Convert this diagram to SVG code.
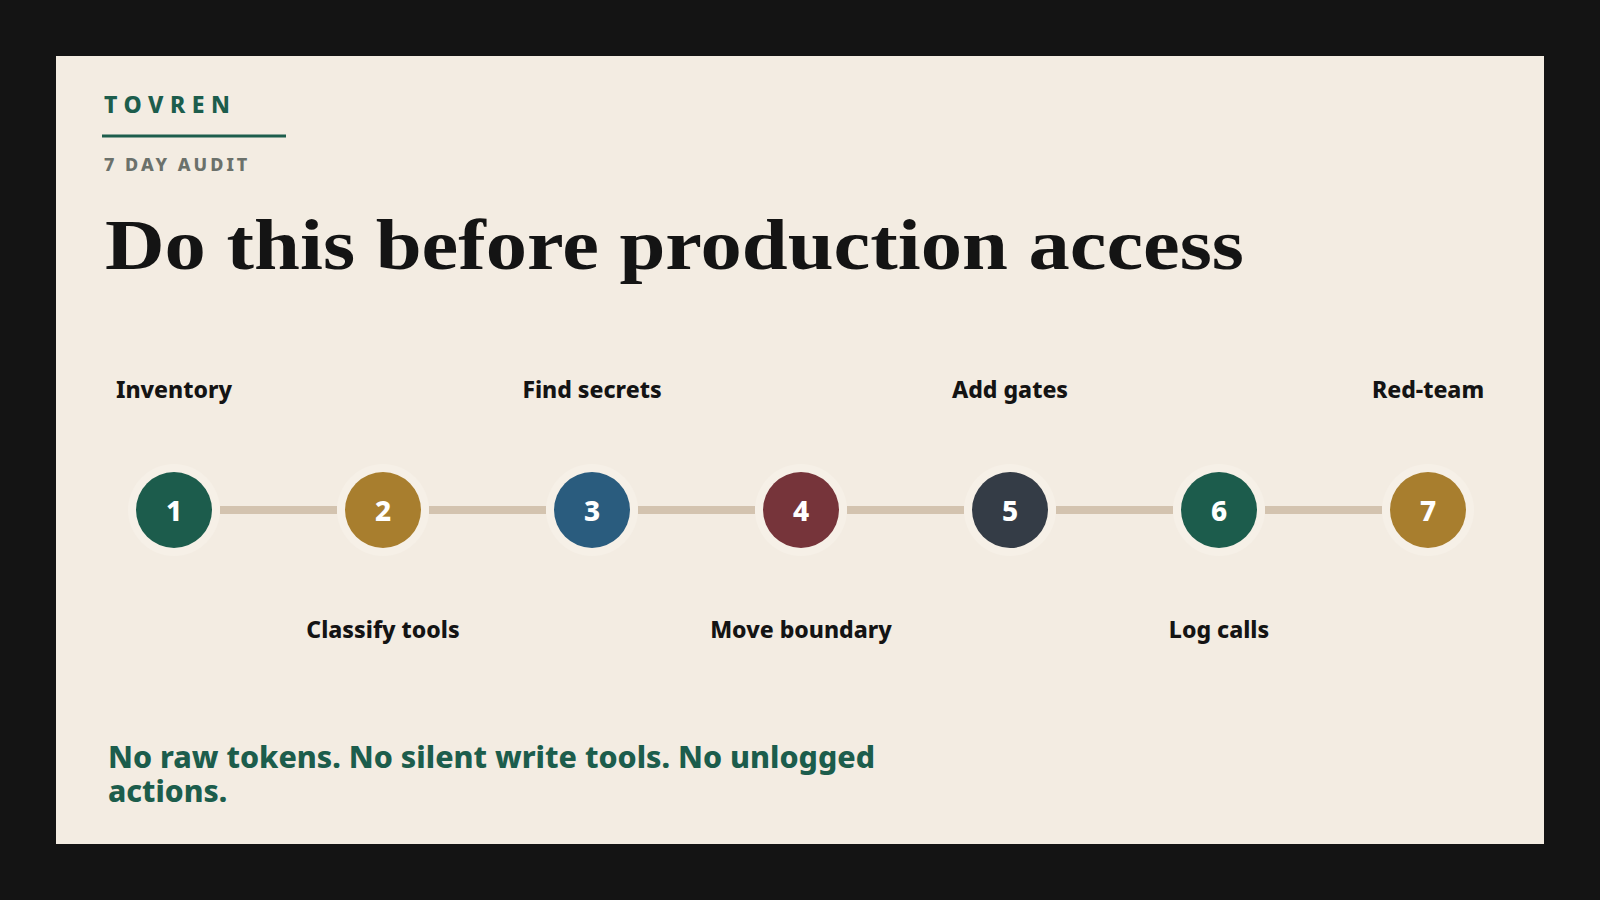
<svg xmlns="http://www.w3.org/2000/svg" width="1600" height="900" viewBox="0 0 1600 900">
<style>
.brand{font-family:"Noto Sans","Open Sans",sans-serif;font-weight:800;font-size:23px;letter-spacing:6.5px;fill:#1C5D4C}
.sub{font-family:"Noto Sans","Open Sans",sans-serif;font-weight:800;font-size:18px;letter-spacing:3px;fill:#6B716B}
.title{font-family:"Liberation Serif","DejaVu Serif",serif;font-weight:700;font-size:72px;fill:#141414}
.lbl{font-family:"Noto Sans","Open Sans",sans-serif;font-weight:800;font-size:23px;fill:#141414;text-anchor:middle}
.num{font-family:"Noto Sans","Open Sans",sans-serif;font-weight:800;font-size:28px;fill:#FFFFFF;text-anchor:middle}
.foot{font-family:"Noto Sans","Open Sans",sans-serif;font-weight:800;font-size:30px;fill:#1C5D4C}
.halo{fill:#F6F0E7}
.conn{stroke:#D3C3AF;stroke-width:8;fill:none}
</style>
<rect x="0" y="0" width="1600" height="900" fill="#141414"/>
<rect x="56" y="56" width="1488" height="788" fill="#F3ECE2"/>
<text class="brand" x="104" y="113">TOVREN</text>
<line x1="102" y1="136" x2="286" y2="136" stroke="#1C5D4C" stroke-width="3"/>
<text class="sub" x="104" y="171">7 DAY AUDIT</text>
<text class="title" x="105" y="269" textLength="1139" lengthAdjust="spacingAndGlyphs">Do this before production access</text>
<g id="connectors">
<line class="conn" x1="220" y1="510" x2="337" y2="510"/>
<line class="conn" x1="429" y1="510" x2="546" y2="510"/>
<line class="conn" x1="638" y1="510" x2="755" y2="510"/>
<line class="conn" x1="847" y1="510" x2="964" y2="510"/>
<line class="conn" x1="1056" y1="510" x2="1173" y2="510"/>
<line class="conn" x1="1265" y1="510" x2="1382" y2="510"/>
</g>
<g id="node1"><circle class="halo" cx="174" cy="510" r="46"/><circle cx="174" cy="510" r="38" fill="#1C5C4C"/><text class="num" x="174" y="521">1</text><text class="lbl" x="174" y="398">Inventory</text></g>
<g id="node2"><circle class="halo" cx="383" cy="510" r="46"/><circle cx="383" cy="510" r="38" fill="#A87E2E"/><text class="num" x="383" y="521">2</text><text class="lbl" x="383" y="638">Classify tools</text></g>
<g id="node3"><circle class="halo" cx="592" cy="510" r="46"/><circle cx="592" cy="510" r="38" fill="#2A5C7E"/><text class="num" x="592" y="521">3</text><text class="lbl" x="592" y="398">Find secrets</text></g>
<g id="node4"><circle class="halo" cx="801" cy="510" r="46"/><circle cx="801" cy="510" r="38" fill="#76343A"/><text class="num" x="801" y="521">4</text><text class="lbl" x="801" y="638">Move boundary</text></g>
<g id="node5"><circle class="halo" cx="1010" cy="510" r="46"/><circle cx="1010" cy="510" r="38" fill="#343C46"/><text class="num" x="1010" y="521">5</text><text class="lbl" x="1010" y="398">Add gates</text></g>
<g id="node6"><circle class="halo" cx="1219" cy="510" r="46"/><circle cx="1219" cy="510" r="38" fill="#1C5C4C"/><text class="num" x="1219" y="521">6</text><text class="lbl" x="1219" y="638">Log calls</text></g>
<g id="node7"><circle class="halo" cx="1428" cy="510" r="46"/><circle cx="1428" cy="510" r="38" fill="#A87E2E"/><text class="num" x="1428" y="521">7</text><text class="lbl" x="1428" y="398">Red-team</text></g>
<text class="foot" x="108" y="768" textLength="767" lengthAdjust="spacingAndGlyphs">No raw tokens. No silent write tools. No unlogged</text>
<text class="foot" x="108" y="802">actions.</text>
</svg>
